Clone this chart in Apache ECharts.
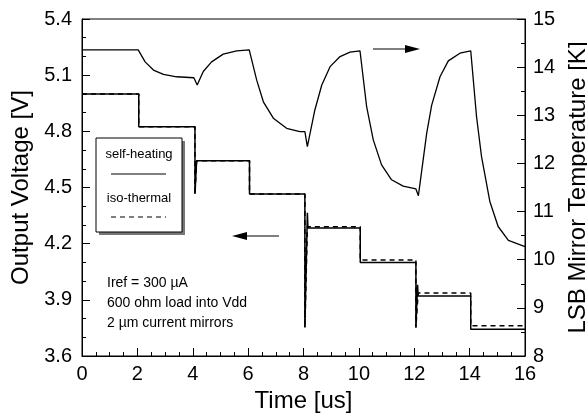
<!DOCTYPE html>
<html>
<head>
<meta charset="utf-8">
<script src="https://cdn.jsdelivr.net/npm/echarts@6/dist/echarts.min.js"></script>
<style>
  html, body { margin: 0; padding: 0; background: #fff; }
  #chart { width: 587px; height: 420px; }
</style>
</head>
<body>
<div id="chart"></div>
<script>
// output voltage, self-heating (solid)
var timeSelf = [0, 2.05, 2.05, 4.08, 4.08, 4.14, 6.05, 6.05, 8.05, 8.05, 8.14, 8.16, 10.05, 10.05, 12.06, 12.06, 12.12, 12.14, 14.04, 14.04, 16];
var voltSelf = [5.0, 5.0, 4.825, 4.825, 4.465, 4.643, 4.643, 4.465, 4.465, 3.752, 4.365, 4.284, 4.284, 4.10, 4.10, 3.752, 3.98, 3.921, 3.921, 3.743, 3.743];

// output voltage, iso-thermal (dashed)
var timeIso = [0, 2.05, 2.05, 4.08, 4.08, 4.14, 6.05, 6.05, 8.05, 8.05, 8.14, 10.05, 10.05, 12.06, 12.06, 12.14, 14.04, 14.04, 16];
var voltIso = [5.0, 5.0, 4.825, 4.825, 4.465, 4.643, 4.643, 4.465, 4.465, 3.752, 4.291, 4.291, 4.113, 4.113, 3.752, 3.937, 3.937, 3.761, 3.761];

// LSB mirror temperature (right axis)
var timeTemp = [0, 2.03, 2.28, 2.58, 2.94, 3.42, 4.04, 4.16, 4.38, 4.68, 5.10, 5.59, 6.04, 6.31, 6.55, 6.91, 7.39, 7.87, 8.05, 8.14, 8.41, 8.66, 8.96, 9.32, 9.68, 10.04, 10.28, 10.52, 10.82, 11.18, 11.60, 12.06, 12.15, 12.45, 12.63, 12.93, 13.23, 13.65, 14.04, 14.25, 14.43, 14.73, 15.03, 15.40, 16.0];
var temp = [14.36, 14.36, 14.11, 13.94, 13.85, 13.80, 13.78, 13.63, 13.91, 14.11, 14.27, 14.34, 14.36, 13.73, 13.28, 12.94, 12.73, 12.66, 12.66, 12.35, 13.11, 13.63, 14.01, 14.22, 14.31, 14.34, 13.18, 12.49, 11.97, 11.66, 11.53, 11.47, 11.33, 12.63, 13.21, 13.80, 14.13, 14.29, 14.34, 12.97, 12.14, 11.21, 10.69, 10.40, 10.27];

var notes = ['Iref = 300 \u00b5A', '600 ohm load into Vdd', '2 \u00b5m current mirrors'];

function pairs(xs, ys) {
  var out = [];
  for (var i = 0; i < xs.length; i++) out.push([xs[i], ys[i]]);
  return out;
}

var font = '"Liberation Sans", Arial, sans-serif';
var chart = echarts.init(document.getElementById('chart'), null, { renderer: 'canvas' });

var axisCommon = {
  axisLine: { show: true, lineStyle: { color: '#000', width: 1 } },
  axisTick: { show: true, inside: true, length: 8, lineStyle: { color: '#000' } },
  minorTick: { show: true, length: 4, lineStyle: { color: '#000' } },
  splitLine: { show: false },
  axisLabel: { color: '#000', fontSize: 20, fontFamily: font },
  nameTextStyle: { color: '#000', fontSize: 24, fontFamily: font },
  nameLocation: 'middle'
};

var option = {
  animation: false,
  backgroundColor: '#fff',
  grid: { left: 82, right: 62, top: 19, bottom: 64, show: true, borderColor: '#000', borderWidth: 1,
    containLabel: false, outerBoundsMode: 'none' },
  xAxis: Object.assign({}, axisCommon, {
    type: 'value', min: 0, max: 16, interval: 2,
    name: 'Time [us]', nameGap: 33,
    minorTick: { show: true, splitNumber: 4, length: 4, lineStyle: { color: '#000' } },
    axisLabel: { color: '#000', fontSize: 20, fontFamily: font, margin: 8 }
  }),
  yAxis: [
    Object.assign({}, axisCommon, {
      type: 'value', min: 3.6, max: 5.4, interval: 0.3,
      name: 'Output Voltage [V]', nameGap: 48, nameRotate: 90,
      minorTick: { show: true, splitNumber: 3, length: 4, lineStyle: { color: '#000' } },
      axisLabel: { color: '#000', fontSize: 20, fontFamily: font, margin: 10,
        formatter: function (v) { return v.toFixed(1); } }
    }),
    Object.assign({}, axisCommon, {
      type: 'value', min: 8, max: 15, interval: 1, position: 'right',
      name: 'LSB Mirror Temperature [K]', nameGap: 34, nameRotate: 90,
      minorTick: { show: true, splitNumber: 2, length: 4, lineStyle: { color: '#000' } },
      axisLabel: { color: '#000', fontSize: 20, fontFamily: font, margin: 8 }
    })
  ],
  series: [
    {
      name: 'self-heating', type: 'line', yAxisIndex: 0, symbol: 'none',
      data: pairs(timeSelf, voltSelf),
      lineStyle: { color: '#000', width: 1.5 }
    },
    {
      name: 'iso-thermal', type: 'line', yAxisIndex: 0, symbol: 'none',
      data: pairs(timeIso, voltIso),
      lineStyle: { color: '#000', width: 1.5, type: [5, 4] }
    },
    {
      name: 'temperature', type: 'line', yAxisIndex: 1, symbol: 'none',
      data: pairs(timeTemp, temp),
      lineStyle: { color: '#000', width: 1.3 }
    }
  ],
  graphic: [
    // legend box with shadow
    { type: 'rect', shape: { x: 99, y: 141, width: 86, height: 94 }, style: { fill: '#777' }, z: 10 },
    { type: 'rect', shape: { x: 96, y: 138, width: 86, height: 94 }, style: { fill: '#fff', stroke: '#000', lineWidth: 1 }, z: 11 },
    { type: 'text', x: 139, y: 154, style: { text: 'self-heating', fill: '#000', font: '13px ' + font, textAlign: 'center', textVerticalAlign: 'middle' }, z: 12 },
    { type: 'line', shape: { x1: 111, y1: 174, x2: 166, y2: 174 }, style: { stroke: '#000', lineWidth: 1.2 }, z: 12 },
    { type: 'text', x: 139, y: 198, style: { text: 'iso-thermal', fill: '#000', font: '13px ' + font, textAlign: 'center', textVerticalAlign: 'middle' }, z: 12 },
    { type: 'line', shape: { x1: 111, y1: 217, x2: 166, y2: 217 }, style: { stroke: '#000', lineWidth: 1.2, lineDash: [5, 4] }, z: 12 },
    // notes
    { type: 'text', x: 107, y: 283, style: { text: notes[0], fill: '#000', font: '14px ' + font, textVerticalAlign: 'middle' }, z: 12 },
    { type: 'text', x: 107, y: 303, style: { text: notes[1], fill: '#000', font: '14px ' + font, textVerticalAlign: 'middle' }, z: 12 },
    { type: 'text', x: 107, y: 323, style: { text: notes[2], fill: '#000', font: '14px ' + font, textVerticalAlign: 'middle' }, z: 12 },
    // arrows
    { type: 'line', shape: { x1: 373, y1: 49, x2: 408, y2: 49 }, style: { stroke: '#000', lineWidth: 1.2 }, z: 12 },
    { type: 'polygon', shape: { points: [[405, 45], [420, 49], [405, 53]] }, style: { fill: '#000' }, z: 12 },
    { type: 'line', shape: { x1: 244, y1: 236, x2: 279, y2: 236 }, style: { stroke: '#000', lineWidth: 1.2 }, z: 12 },
    { type: 'polygon', shape: { points: [[247, 232], [232, 236], [247, 240]] }, style: { fill: '#000' }, z: 12 }
  ]
};

chart.setOption(option);
</script>
</body>
</html>
